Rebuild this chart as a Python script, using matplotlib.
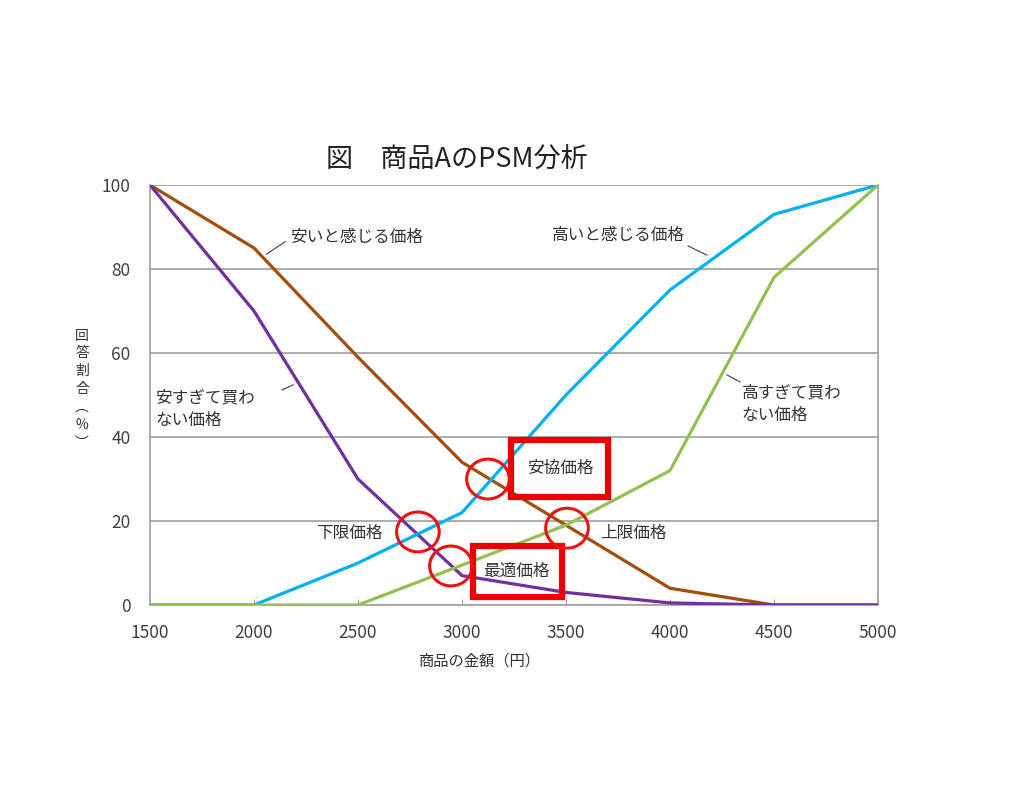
import numpy as np
import matplotlib
matplotlib.use('Agg')
import matplotlib.pyplot as plt
from matplotlib.patches import Ellipse, Rectangle

plt.rcParams['font.family'] = ['Noto Sans CJK JP', 'DejaVu Sans']

# data
prices = [1500, 2000, 2500, 3000, 3500, 4000, 4500, 5000]
cheap = [100, 85, 59, 34, 19, 4, 0, 0]            # 安いと感じる価格
too_cheap = [100, 70, 30, 7, 3, 0.5, 0, 0]        # 安すぎて買わない価格
expensive = [0, 0, 10, 22, 50, 75, 93, 100]       # 高いと感じる価格
too_expensive = [0, 0, 0, 9.5, 19, 32, 78, 100]   # 高すぎて買わない価格

# intersection points (price, percent)
points = {'安協価格': (3125, 30), '下限価格': (2788, 17.4),
          '最適価格': (2947, 9.3), '上限価格': (3505, 18.3)}

fig = plt.figure(figsize=(10.21, 7.94), dpi=100)
ax = fig.add_axes([0.1469, 0.238, 0.7130, 0.529])

ax.plot(prices, cheap, color='#A34E0A', lw=2.3, zorder=3)
ax.plot(prices, too_cheap, color='#7030A0', lw=2.3, zorder=3)
ax.plot(prices, expensive, color='#00B0F0', lw=2.3, zorder=3)
ax.plot(prices, too_expensive, color='#93C150', lw=2.3, zorder=3)

ax.set_xlim(1500, 5000)
ax.set_ylim(0, 100)
ax.set_xticks(prices)
ax.set_yticks([0, 20, 40, 60, 80, 100])
ax.tick_params(axis='x', direction='in', length=4, color='#A0A0A0',
               labelsize=12.5, labelcolor='#404040', pad=14)
ax.tick_params(axis='y', length=0, labelsize=12.5, labelcolor='#404040', pad=14)
ax.grid(axis='y', color='#A6A6A6', lw=1.3)
ax.set_axisbelow(True)
for s in ['left', 'bottom', 'right']:
    ax.spines[s].set_color('#A6A6A6')
    ax.spines[s].set_linewidth(1.3)
ax.spines['top'].set_visible(False)

txt = dict(fontsize=12, color='#333333')
ax.text(2173, 87.6, '安いと感じる価格', ha='left', va='center', **txt)
ax.plot([2060, 2150], [83.5, 86.5], color='#404040', lw=0.8)
ax.text(4072, 88, '高いと感じる価格', ha='right', va='center', **txt)
ax.plot([4087, 4178], [85.5, 83.3], color='#404040', lw=0.8)
ax.text(1524, 46.7, '安すぎて買わ\nない価格', ha='left', va='center', linespacing=1.45, **txt)
ax.plot([2135, 2188], [51.2, 52.4], color='#404040', lw=0.8)
ax.text(4346, 47.9, '高すぎて買わ\nない価格', ha='left', va='center', linespacing=1.45, **txt)
ax.plot([4274, 4337], [54.8, 53.1], color='#404040', lw=0.8)
ax.text(2620, 17.1, '下限価格', ha='right', va='center', **txt)
ax.text(3663, 17.1, '上限価格', ha='left', va='center', **txt)
ax.text(3471, 32.4, '安協価格', ha='center', va='center', **txt)
ax.text(3264, 8.1, '最適価格', ha='center', va='center', **txt)

# red boxes
ax.add_patch(Rectangle((3236, 25.7), 466, 13.6, fill=False, ec='#EE0000',
                       lw=4.5, clip_on=False, zorder=5))
ax.add_patch(Rectangle((3053, 1.9), 428, 12.1, fill=False, ec='#EE0000',
                       lw=4.5, clip_on=False, zorder=5))

# red circles at intersections
for name, (px, py) in points.items():
    ax.add_patch(Ellipse((px, py), 205, 9.5, fill=False, ec='#EE1111',
                         lw=2.2, zorder=6))

fig.text(0.4476, 0.798, '図　商品AのPSM分析', ha='center', va='center',
         fontsize=19.5, color='#222222')
fig.text(0.4700, 0.168, '商品の金額（円）', ha='center', va='center',
         fontsize=11, color='#333333')
fig.text(0.0803, 0.510, '\n'.join('回答割合︵%︶'), ha='center', va='center',
         fontsize=10, color='#333333', linespacing=1.35)

fig.savefig('out.png', dpi=100)
